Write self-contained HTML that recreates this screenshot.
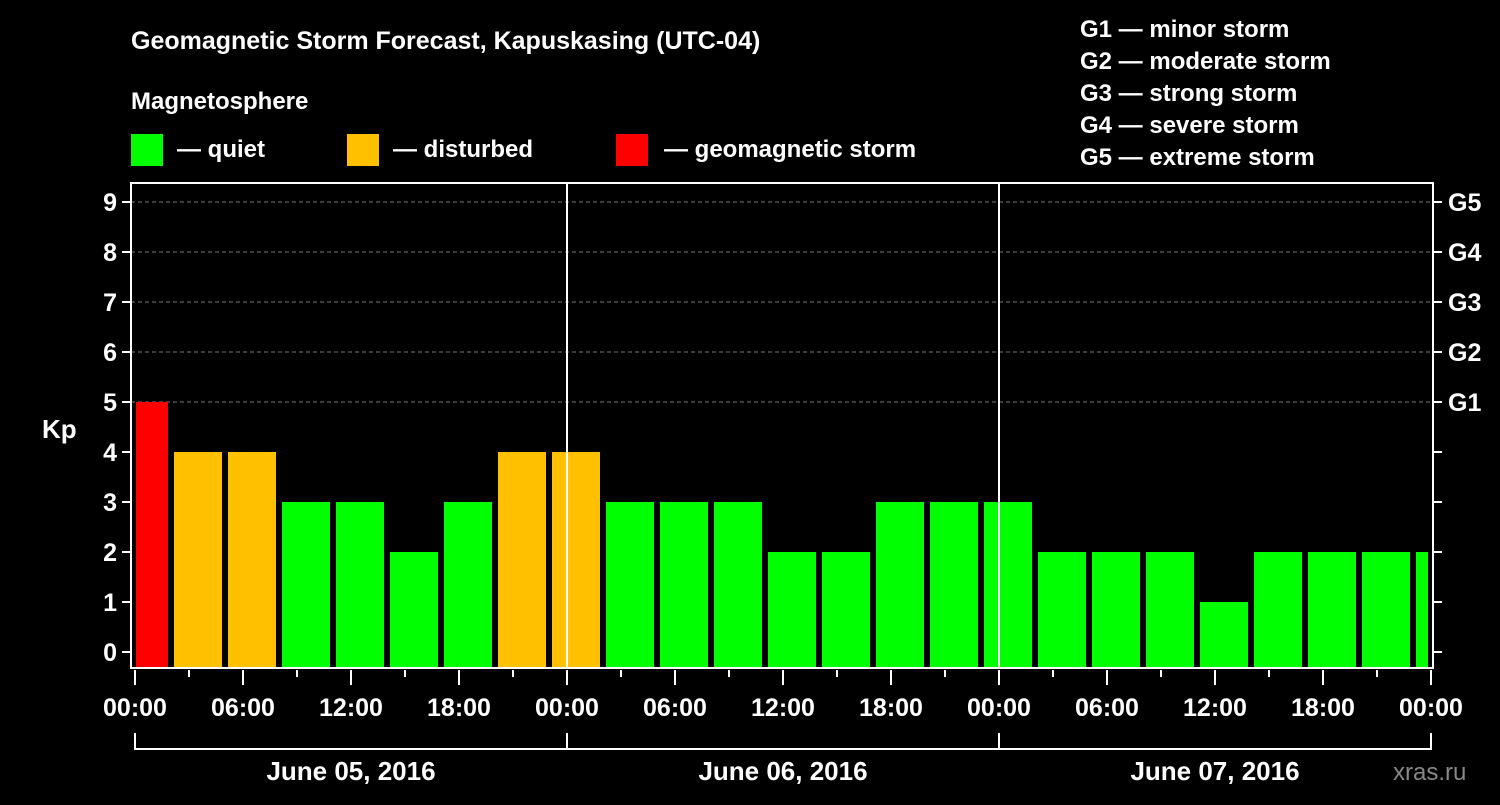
<!DOCTYPE html>
<html><head><meta charset="utf-8"><style>
html,body{margin:0;padding:0;background:#000;}
svg text{font-family:"Liberation Sans",sans-serif;font-weight:bold;fill:#fff;}
</style></head><body>
<svg id="chart" width="1500" height="800" xmlns="http://www.w3.org/2000/svg">
<rect width="1500" height="800" fill="#000"/>
<text x="131" y="49" font-size="25">Geomagnetic Storm Forecast, Kapuskasing (UTC-04)</text>
<text x="131" y="109" font-size="24">Magnetosphere</text>
<g>
<rect x="131" y="134" width="32" height="32" fill="#00ff00"/>
<text x="177" y="157" font-size="24">— quiet</text>
<rect x="347" y="134" width="32" height="32" fill="#ffc000"/>
<text x="393" y="157" font-size="24">— disturbed</text>
<rect x="616" y="134" width="32" height="32" fill="#ff0000"/>
<text x="664" y="157" font-size="24">— geomagnetic storm</text>
</g>
<g font-size="24">
<text x="1080" y="37">G1 — minor storm</text>
<text x="1080" y="69">G2 — moderate storm</text>
<text x="1080" y="101">G3 — strong storm</text>
<text x="1080" y="133">G4 — severe storm</text>
<text x="1080" y="165">G5 — extreme storm</text>
</g>
<text x="42" y="438" font-size="26">Kp</text>
<text x="1393" y="780" font-size="24" fill="#888" style="fill:#888;font-weight:normal">xras.ru</text>
<g id="grid"></g>
<g id="bars"></g>
<g id="axes"></g>
</svg>
<script>
const kpValues=[5,4,4,3,3,2,3,4,4,3,3,3,2,2,3,3,3,2,2,2,1,2,2,2,2];
const yTicks=[0,1,2,3,4,5,6,7,8,9];
const gLabels=["G1","G2","G3","G4","G5"];
const xTickLabels=["00:00","06:00","12:00","18:00","00:00","06:00","12:00","18:00","00:00","06:00","12:00","18:00","00:00"];
const dayLabels=["June 05, 2016","June 06, 2016","June 07, 2016"];
const NS="http://www.w3.org/2000/svg";
const L=131,R=1433,T=183,B=668;
const x0=135,pxPerHour=18;
function xh(h){return x0+h*pxPerHour;}
function yk(v){return 652-v*50;}
function mk(tag,attrs,parent){const e=document.createElementNS(NS,tag);for(const k in attrs)e.setAttribute(k,attrs[k]);parent.appendChild(e);return e;}
const grid=document.getElementById('grid'),bars=document.getElementById('bars'),axes=document.getElementById('axes');
yTicks.forEach(v=>{
 if(v>=5){const g=mk('line',{x1:L,x2:R,y1:yk(v),y2:yk(v),stroke:'#777','stroke-dasharray':'4,3','stroke-width':1},grid);
 
 }
 const t=mk('line',{x1:L-9,x2:L,y1:yk(v),y2:yk(v),stroke:'#fff','stroke-width':2},axes);
 
 
 const tr=mk('line',{x1:R,x2:R+9,y1:yk(v),y2:yk(v),stroke:'#fff','stroke-width':2},axes);
 
 
 const lb=mk('text',{x:L-14,y:yk(v)+9,'text-anchor':'end','font-size':25},axes);
 lb.textContent=v;
 
 
});
gLabels.forEach((g,i)=>{
 const lb=mk('text',{x:R+15,y:yk(5+i)+9,'font-size':25},axes);
 lb.textContent=g;
 
 
});
kpValues.forEach((v,k)=>{
 let xa=xh(3*k)-15,xb=xa+48;
 xa=Math.max(xa,L+5);xb=Math.min(xb,R-5);
 const c=v>=5?'#ff0000':(v>=4?'#ffc000':'#00ff00');
 const r=mk('rect',{x:xa,y:yk(v),width:xb-xa,height:B-yk(v),fill:c},bars);
 
 
});
[1,2].forEach(d=>{
 const l=mk('line',{x1:xh(24*d),x2:xh(24*d),y1:T,y2:B,stroke:'#fff','stroke-width':2},axes);
 
 
});
const fr=mk('rect',{x:L,y:T,width:R-L,height:B-T,fill:'none',stroke:'#fff','stroke-width':2},axes);


for(let i=0;i<=24;i++){
 const major=i%2===0;
 const t=mk('line',{x1:xh(3*i),x2:xh(3*i),y1:B+2,y2:B+(major?17:9),stroke:'#fff','stroke-width':2},axes);
 
 
}
xTickLabels.forEach((s,i)=>{
 const lb=mk('text',{x:xh(6*i),y:716,'text-anchor':'middle','font-size':25},axes);
 lb.textContent=s;
 
 
});
const br=mk('polyline',{points:`${xh(0)},733 ${xh(0)},749 ${xh(72)},749 ${xh(72)},733`,fill:'none',stroke:'#fff','stroke-width':2},axes);


[1,2].forEach(d=>{
 const l=mk('line',{x1:xh(24*d),x2:xh(24*d),y1:733,y2:749,stroke:'#fff','stroke-width':2},axes);
 
 
});
dayLabels.forEach((s,i)=>{
 const lb=mk('text',{x:xh(24*i+12),y:780,'text-anchor':'middle','font-size':26},axes);
 lb.textContent=s;
 
 
});
</script>
</body></html>
